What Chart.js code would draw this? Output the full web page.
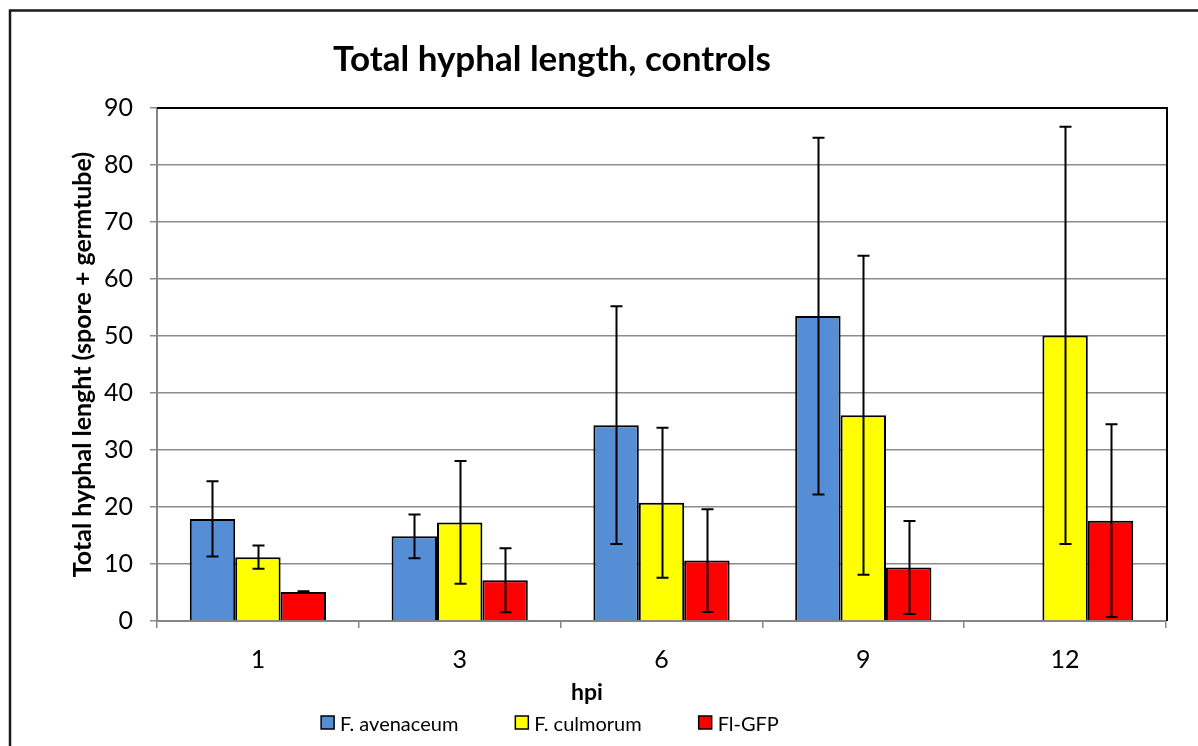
<!DOCTYPE html>
<html>
<head>
<meta charset="utf-8">
<script src="https://cdn.jsdelivr.net/npm/chart.js@4.4.0/dist/chart.umd.min.js"></script>
<style>
  html, body { margin: 0; padding: 0; background: #fff; }
</style>
</head>
<body>
<canvas id="chart" width="1198" height="746"></canvas>
<script>
// hours post inoculation
const hpi = ['1', '3', '6', '9', '12'];

const avenaceum   = [17.9, 14.85, 34.35, 53.5, null];
const avenaceumSd = [6.6, 3.85, 20.85, 31.3, null];
const culmorum    = [11.2, 17.3, 20.75, 36.1, 50.1];
const culmorumSd  = [2.05, 10.75, 13.15, 28.0, 36.6];
const flGfp       = [5.1, 7.15, 10.6, 9.4, 17.6];
const flGfpSd     = [0.1, 5.6, 9.0, 8.15, 16.9];

const yTicks = [0, 10, 20, 30, 40, 50, 60, 70, 80, 90];

const FONT = 'Lato, "Noto Sans", sans-serif';

// vertical error bars with caps, from each dataset's `errors`
const errorBars = {
  id: 'errorBars',
  afterDatasetsDraw(chart) {
    const ctx = chart.ctx;
    const y = chart.scales.y;
    ctx.save();
    ctx.strokeStyle = '#000';
    ctx.lineWidth = 2;
    chart.data.datasets.forEach((ds, i) => {
      const meta = chart.getDatasetMeta(i);
      meta.data.forEach((bar, j) => {
        const v = ds.data[j], e = ds.errors[j];
        if (v == null || e == null) return;
        const x = Math.round(bar.x) + 0.5;
        const top = y.getPixelForValue(v + e);
        const bot = y.getPixelForValue(v - e);
        ctx.beginPath();
        ctx.moveTo(x, top); ctx.lineTo(x, bot);
        ctx.moveTo(x - 6, top); ctx.lineTo(x + 6, top);
        ctx.moveTo(x - 6, bot); ctx.lineTo(x + 6, bot);
        ctx.stroke();
      });
    });
    ctx.restore();
  }
};

// outer frame, plot border, title, x title and legend
const decorations = {
  id: 'decorations',
  afterDraw(chart) {
    const ctx = chart.ctx;
    const a = chart.chartArea;
    ctx.save();

    ctx.strokeStyle = '#1a1a1a';
    ctx.lineWidth = 2.5;
    ctx.strokeRect(10, 10.5, 1230, 780);

    ctx.strokeStyle = '#000';
    ctx.lineWidth = 2;
    ctx.beginPath();
    ctx.moveTo(a.left, a.top);
    ctx.lineTo(a.right + 1, a.top);
    ctx.lineTo(a.right + 1, a.bottom);
    ctx.stroke();

    ctx.fillStyle = '#000';
    ctx.textAlign = 'center';
    ctx.textBaseline = 'alphabetic';
    ctx.font = 'bold 35px ' + FONT;
    ctx.fillText('Total hyphal length, controls', 552, 71);

    ctx.font = 'bold 23px ' + FONT;
    ctx.fillText('hpi', 587, 700);

    // legend
    ctx.font = '20px ' + FONT;
    ctx.textAlign = 'left';
    const box = 13, gapText = 6, gapItem = 57;
    const items = chart.data.datasets.map(ds => ({
      label: ds.label, color: ds.backgroundColor,
      w: box + gapText + ctx.measureText(ds.label).width
    }));
    const total = items.reduce((s, it) => s + it.w, 0) + gapItem * (items.length - 1);
    let x = 550 - total / 2;
    items.forEach(it => {
      ctx.fillStyle = it.color;
      ctx.fillRect(x, 716, box, box);
      ctx.strokeStyle = '#000';
      ctx.lineWidth = 1.5;
      ctx.strokeRect(x, 716, box, box);
      ctx.fillStyle = '#000';
      ctx.fillText(it.label, x + box + gapText, 731);
      x += it.w + gapItem;
    });

    ctx.restore();
  }
};

new Chart(document.getElementById('chart'), {
  type: 'bar',
  data: {
    labels: hpi,
    datasets: [
      { label: 'F. avenaceum', data: avenaceum, errors: avenaceumSd, backgroundColor: '#558ED5' },
      { label: 'F. culmorum', data: culmorum, errors: culmorumSd, backgroundColor: '#FFFF00' },
      { label: 'Fl-GFP', data: flGfp, errors: flGfpSd, backgroundColor: '#FF0000' }
    ]
  },
  options: {
    responsive: false,
    animation: false,
    devicePixelRatio: 1,
    layout: { padding: { top: 108, right: 32, bottom: 0, left: 0 } },
    datasets: {
      bar: {
        borderColor: '#000',
        borderWidth: 2,
        barPercentage: 1,
        categoryPercentage: 0.675
      }
    },
    plugins: {
      legend: { display: false },
      tooltip: { enabled: false }
    },
    scales: {
      x: {
        afterFit(scale) { scale.height = 125; },
        grid: { drawOnChartArea: false, tickLength: 7, color: '#868686', lineWidth: 1.5 },
        border: { color: '#868686', width: 2 },
        ticks: { color: '#000', font: { family: FONT, size: 25 }, padding: 17 }
      },
      y: {
        min: 0,
        max: 90,
        afterFit(scale) { scale.width = 157; },
        afterBuildTicks(scale) { scale.ticks = yTicks.map(v => ({ value: v })); },
        grid: { color: '#8c8c8c', lineWidth: 1.5, tickLength: 7 },
        border: { color: '#868686', width: 2 },
        ticks: { color: '#000', font: { family: FONT, size: 25 }, padding: 17 },
        title: {
          display: true,
          text: 'Total hyphal lenght (spore + germtube)',
          color: '#000',
          font: { family: FONT, size: 25, weight: 'bold' },
          padding: { top: 68, bottom: 0 }
        }
      }
    }
  },
  plugins: [errorBars, decorations]
});
</script>
</body>
</html>
